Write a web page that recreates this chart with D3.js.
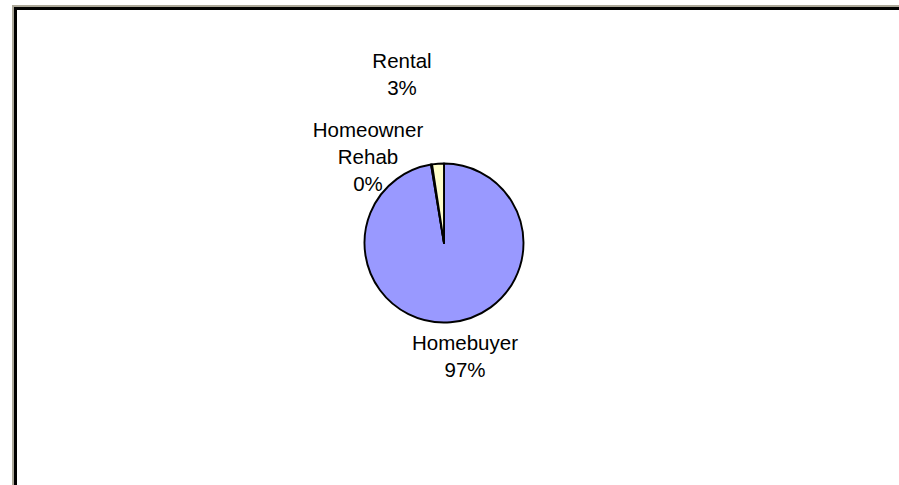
<!DOCTYPE html>
<html>
<head>
<meta charset="utf-8">
<script src="https://cdn.jsdelivr.net/npm/d3@7"></script>
<style>
  html, body { margin: 0; padding: 0; background: #ffffff; }
  svg { display: block; }
</style>
</head>
<body>
<svg id="chart" width="899" height="485"></svg>
<script>
// ---- data ----
const categories = ["Homebuyer", "Homeowner Rehab", "Rental"];
const values = [97.4, 0.2, 2.4];
const percentLabels = ["97%", "0%", "3%"];
const colors = ["#9999FF", "#993366", "#FFFFCC"];

// ---- layout (not data) ----
const W = 899, H = 485;
const cx = 444, cy = 243, r = 79.5;
const labelLayout = [
  { x: 465, y: 350, lines: ["Homebuyer"] },
  { x: 368, y: 137, lines: ["Homeowner", "Rehab"] },
  { x: 402, y: 68,  lines: ["Rental"] }
];
const fontSize = 20.5, lineH = 26.8;

const svg = d3.select("#chart");

// frame
svg.append("rect").attr("x", 12).attr("y", 5).attr("width", W - 12).attr("height", 2).attr("fill", "#aca899");
svg.append("rect").attr("x", 12).attr("y", 5).attr("width", 2).attr("height", H - 5).attr("fill", "#aca899");
svg.append("rect").attr("x", 14).attr("y", 7).attr("width", W - 14).attr("height", 3).attr("fill", "#000");
svg.append("rect").attr("x", 14).attr("y", 7).attr("width", 3).attr("height", H - 7).attr("fill", "#000");

const pie = d3.pie().sort(null).value(d => d).startAngle(0).endAngle(2 * Math.PI);
const arcs = pie(values);
const arc = d3.arc().innerRadius(0).outerRadius(r);

const g = svg.append("g").attr("transform", `translate(${cx},${cy})`);
g.selectAll("path.slice")
  .data(arcs)
  .join("path")
  .attr("class", "slice")
  .attr("d", arc)
  .attr("fill", (d, i) => colors[i])
  .attr("stroke", "#000")
  .attr("stroke-width", 1.9)
  .attr("stroke-linejoin", "round");

// labels
const lg = svg.append("g")
  .attr("font-family", "'Liberation Sans', Arial, sans-serif")
  .attr("font-size", fontSize)
  .attr("fill", "#000")
  .attr("text-anchor", "middle");

categories.forEach((c, i) => {
  const L = labelLayout[i];
  const t = lg.append("text").attr("x", L.x).attr("y", L.y);
  const lines = L.lines.concat([percentLabels[i]]);
  lines.forEach((s, k) => {
    t.append("tspan").attr("x", L.x).attr("y", L.y + k * lineH).text(s);
  });
});
</script>
</body>
</html>
